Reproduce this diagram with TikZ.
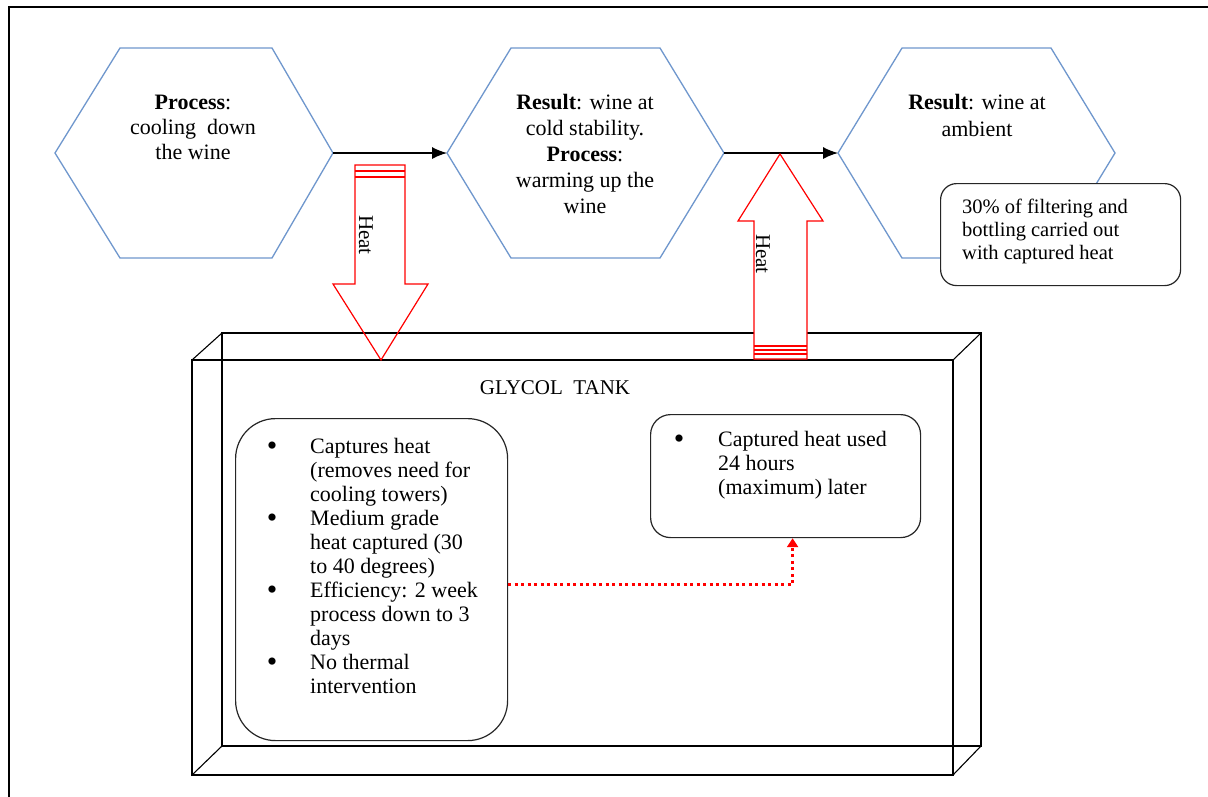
\documentclass[tikz,border=0pt]{standalone}
\usepackage{fontspec}
\setmainfont{Liberation Serif}
\usetikzlibrary{arrows.meta}
\definecolor{hexblue}{RGB}{111,151,205}
\begin{document}
\begin{tikzpicture}[x=1pt,y=-1pt,
  hexa/.style={draw=hexblue, line width=1.3pt},
  flow/.style={draw=black, line width=1.3pt, -{Latex[length=15pt,width=12pt]}},
  heatarrow/.style={draw=red, line width=1.2pt},
  hextxt/.style={font=\fontsize{22}{25}\selectfont, align=center, inner sep=0pt, anchor=base},
  boxtxt/.style={font=\fontsize{22}{24}\selectfont, align=left, inner sep=0pt, anchor=base west},
  bul/.style={font=\fontsize{30}{24}\selectfont, inner sep=0pt, anchor=base},
  rbox/.style={draw=black!85, line width=1.2pt, fill=white, inner sep=0pt, anchor=north west},
  tank/.style={draw=black, line width=1.1pt},
  dotarrow/.style={draw=red, line width=3pt, dash pattern=on 3pt off 3.5pt, -{Triangle[length=9pt,width=11pt]}}]
\useasboundingbox (0,0) rectangle (1208,796);
\fill[white] (0,0) rectangle (1208,796);
% outer frame
\draw[line width=2.5pt] (9,830) -- (9,7) -- (1230,7);

% tank (wireframe box)
\draw[tank] (192,360) rectangle (953,775);
\draw[tank] (222,333) rectangle (981,746);
\draw[tank] (192,360) -- (222,333);
\draw[tank] (953,360) -- (981,333);
\draw[tank] (192,775) -- (222,746);
\draw[tank] (953,775) -- (981,746);
\node[font=\fontsize{21}{25}\selectfont, anchor=base] (gt) at (555,394) {GLYCOL\ \ TANK};

% hexagons
\coordinate (h1l) at (55,153);  \coordinate (h1r) at (333,153);
\coordinate (h2l) at (447,153); \coordinate (h2r) at (724,153);
\coordinate (h3l) at (838,153); \coordinate (h3r) at (1115,153);
\draw[hexa] (h1l) -- (120,48) -- (272,48) -- (h1r) -- (272,258) -- (120,258) -- cycle;
\draw[hexa] (h2l) -- (511,48) -- (660,48) -- (h2r) -- (660,258) -- (511,258) -- cycle;
\draw[hexa] (h3l) -- (902,48) -- (1051,48) -- (h3r) -- (1051,258) -- (902,258) -- cycle;
% base anchor = baseline of the last line
\node[hextxt] (t1) at (193,159) {\textbf{Process}:\\cooling\ \ down\\the wine};
\node[hextxt, font=\fontsize{22}{26}\selectfont] (t2) at (585,213) {\textbf{Result}: wine at\\cold stability.\\\textbf{Process}:\\warming up the\\wine};
\node[hextxt, font=\fontsize{22}{27}\selectfont] (t3) at (977,136) {\textbf{Result}: wine at\\ambient};
\draw[flow] (h1r) -- (h2l);
\draw[flow] (h2r) -- (h3l);

% heat down arrow
\draw[heatarrow, line join=miter] (355,165) -- (405,165) -- (405,284) -- (428,284) -- (381,360) -- (333,284) -- (355,284) -- cycle;
\draw[heatarrow] (355,171) -- (405,171);
\draw[heatarrow] (355,177) -- (405,177);
\node[font=\fontsize{21}{24}\selectfont, rotate=-90, inner sep=0pt] (hd) at (366,235) {Heat};

% heat up arrow
\draw[heatarrow, fill=white, line join=miter] (754,359) -- (807,359) -- (807,221) -- (823,221) -- (780,154) -- (738,221) -- (754,221) -- cycle;
\draw[heatarrow] (754,346) -- (807,346);
\draw[heatarrow] (754,350) -- (807,350);
\draw[heatarrow] (754,354) -- (807,354);
\node[font=\fontsize{21}{24}\selectfont, rotate=-90, inner sep=0pt] (hu) at (763,254) {Heat};

% callout
\node[rbox, rounded corners=16pt, minimum width=240pt, minimum height=102pt] (cb) at (940,183) {};
\node[boxtxt, font=\fontsize{20.5}{23}\selectfont] (cbt) at (962,259) {30\% of filtering and\\bottling carried out\\with captured heat};

% left box
\node[rbox, rounded corners=40pt, minimum width=272pt, minimum height=322pt] (lb) at (235,418) {};
\node[bul] (b1) at (272,455) {\textbullet};
\node[boxtxt] (l1) at (310,501) {Captures heat\\(removes need for\\cooling towers)};
\node[bul] (b2) at (272,527) {\textbullet};
\node[boxtxt] (l2) at (310,573) {Medium grade\\heat captured (30\\to 40 degrees)};
\node[bul] (b3) at (272,599) {\textbullet};
\node[boxtxt] (l3) at (310,645) {Efficiency: 2 week\\process down to 3\\days};
\node[bul] (b4) at (272,671) {\textbullet};
\node[boxtxt] (l4) at (310,693) {No thermal\\intervention};

% right box
\node[rbox, rounded corners=20pt, minimum width=270pt, minimum height=123pt] (rb) at (650,414) {};
\node[bul] (b5) at (679,448) {\textbullet};
\node[boxtxt] (r1) at (718,494) {Captured heat used\\24 hours\\(maximum) later};

% dotted connector
\draw[dotarrow] ([yshift=-5pt]lb.east) -| ([xshift=7pt]rb.south);
\end{tikzpicture}
\end{document}
